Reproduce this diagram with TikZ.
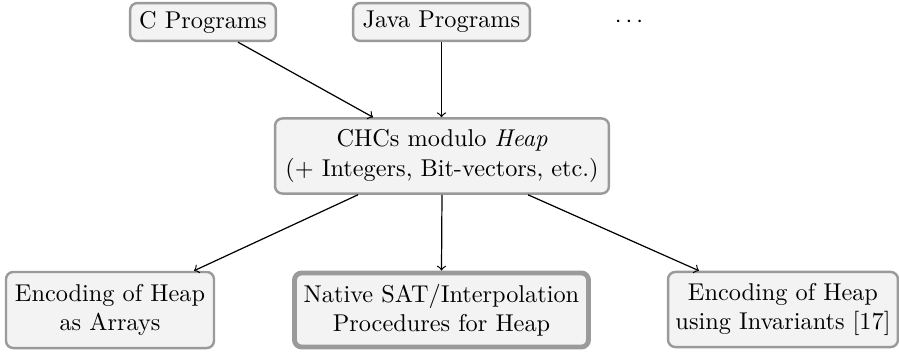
\documentclass[tikz,border=0pt]{standalone}
\usetikzlibrary{calc}
\definecolor{boxfill}{HTML}{F3F3F3}
\definecolor{boxline}{HTML}{9A9A9A}
\tikzset{
  box/.style={draw=boxline, fill=boxfill, line width=1pt, rounded corners=3pt,
    align=center, inner sep=1pt},
  mainbox/.style={box, line width=2pt},
  flow/.style={->, line width=0.5pt},
}
\begin{document}
\begin{tikzpicture}[x=0.4115pt, y=-0.4115pt]
  \useasboundingbox (0,0) rectangle (899,352);
  % sources
  \node[box, minimum width=60pt, minimum height=15.6pt] (c) at (203,22) {C Programs};
  \node[box, minimum width=72.8pt, minimum height=15.6pt] (java) at (441.5,22) {Java Programs};
  \node (dots) at (629,22) {$\cdots$};
  % central constraint language
  \node[box, minimum width=137.4pt, minimum height=30.9pt] (chc) at (442,156)
    {CHCs modulo \textit{Heap}\\(+ Integers, Bit-vectors, etc.)};
  % back ends
  \node[box, minimum width=85.6pt, minimum height=31.3pt] (arr) at (110,310)
    {Encoding of Heap\\as Arrays};
  \node[mainbox, minimum width=121pt, minimum height=30.5pt] (nat) at (441.5,310)
    {Native SAT/Interpolation\\Procedures for Heap};
  \node[box, minimum width=94.6pt, minimum height=30.9pt] (inv) at (783,309.5)
    {Encoding of Heap\\using Invariants [17]};
  % connectors
  \draw[flow] ($(c.south)+(35,0)$) -- ($(chc.north)+(-69,0)$);
  \draw[flow] (java.south) -- (java.south |- chc.north);
  \draw[flow] ($(chc.south)+(-84,0)$) -- ($(arr.north)+(84,0)$);
  \draw[flow] (chc.south) -- (nat.north);
  \draw[flow] ($(chc.south)+(86,0)$) -- ($(inv.north)+(-84,0)$);
\end{tikzpicture}
\end{document}
